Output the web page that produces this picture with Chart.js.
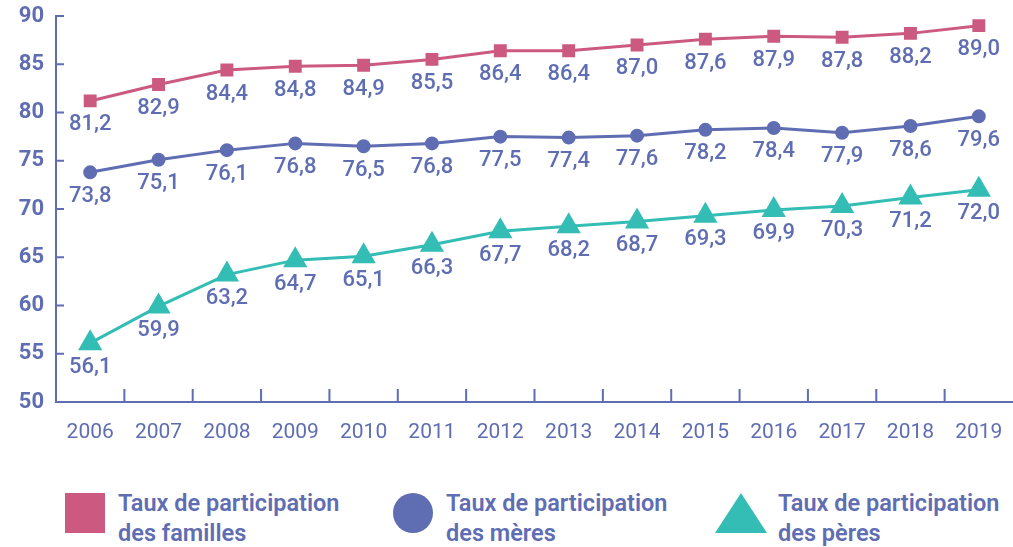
<!DOCTYPE html>
<html lang="fr">
<head>
<meta charset="utf-8">
<script src="https://cdn.jsdelivr.net/npm/chart.js@4"></script>
<style>
  body { margin: 0; background: #fff; font-family: Roboto, "Open Sans", sans-serif; }
  #wrap { position: relative; width: 1013px; height: 547px; overflow: hidden; }
  #box { position: absolute; left: 0; top: 0; width: 1013px; height: 460px; }
  .leg { position: absolute; top: 488px; color: #5f6db3; font-size: 23.5px; font-weight: 600; line-height: 30px; white-space: nowrap; }
  .mk { position: absolute; }
</style>
</head>
<body>
<div id="wrap">
  <div id="box"><canvas id="myChart"></canvas></div>
  <div class="mk" style="left:65px;top:493px;width:40px;height:40px;background:#cc5a80"></div>
  <div class="leg" style="left:118px">Taux de participation<br>des familles</div>
  <div class="mk" style="left:393px;top:493px;width:40px;height:40px;border-radius:50%;background:#5f6db3"></div>
  <div class="leg" style="left:446px">Taux de participation<br>des mères</div>
  <div class="mk" style="left:715px;top:493px;width:0;height:0;border-left:26px solid transparent;border-right:26px solid transparent;border-bottom:40px solid #33bdb5"></div>
  <div class="leg" style="left:778px">Taux de participation<br>des pères</div>
</div>
<script>
// Données du graphique
var annees = ["2006", "2007", "2008", "2009", "2010", "2011", "2012", "2013", "2014", "2015", "2016", "2017", "2018", "2019"];
var familles = [81.2, 82.9, 84.4, 84.8, 84.9, 85.5, 86.4, 86.4, 87.0, 87.6, 87.9, 87.8, 88.2, 89.0];
var meres = [73.8, 75.1, 76.1, 76.8, 76.5, 76.8, 77.5, 77.4, 77.6, 78.2, 78.4, 77.9, 78.6, 79.6];
var peres = [56.1, 59.9, 63.2, 64.7, 65.1, 66.3, 67.7, 68.2, 68.7, 69.3, 69.9, 70.3, 71.2, 72.0];
var graduations = [50, 55, 60, 65, 70, 75, 80, 85, 90];

var bleu = "#5f6db3";

// Petits traits vers l'intérieur sur les axes
var traits = {
    id: "traits",
    beforeDatasetsDraw: function (chart) {
        var c = chart.ctx, a = chart.chartArea;
        var x = chart.scales.x, y = chart.scales.y;
        c.save();
        c.strokeStyle = bleu;
        c.lineWidth = 2;
        c.beginPath();
        graduations.forEach(function (v) {
            var py = y.getPixelForValue(v);
            if (v > 50) { c.moveTo(a.left, py); c.lineTo(a.left + 8, py); }
        });
        for (var i = 1; i < annees.length; i++) {
            var px = (x.getPixelForValue(i - 1) + x.getPixelForValue(i)) / 2;
            c.moveTo(px, a.bottom); c.lineTo(px, a.bottom - 13);
        }
        c.stroke();
        c.restore();
    }
};

// Valeurs sous chaque point
var etiquettes = {
    id: "etiquettes",
    afterDatasetsDraw: function (chart) {
        var c = chart.ctx;
        c.save();
        c.fillStyle = bleu;
        c.font = "500 22px Roboto";
        c.textAlign = "center";
        c.textBaseline = "middle";
        chart.data.datasets.forEach(function (ds, i) {
            chart.getDatasetMeta(i).data.forEach(function (pt, j) {
                c.fillText(ds.data[j].toFixed(1).replace(".", ","), pt.x, pt.y + 24);
            });
        });
        c.restore();
    }
};

var ctx = document.getElementById("myChart").getContext("2d");
var myChart = new Chart(ctx, {
    type: "line",
    data: {
        labels: annees,
        datasets: [{
            label: "Taux de participation des familles",
            data: familles,
            borderColor: "#cc5a80",
            backgroundColor: "#cc5a80",
            borderWidth: 3,
            pointStyle: "rect",
            pointRadius: 7,
        }, {
            label: "Taux de participation des mères",
            data: meres,
            borderColor: bleu,
            backgroundColor: bleu,
            borderWidth: 3,
            pointStyle: "circle",
            pointRadius: 5.5,
        }, {
            label: "Taux de participation des pères",
            data: peres,
            borderColor: "#33bdb5",
            backgroundColor: "#33bdb5",
            borderWidth: 3,
            pointStyle: "triangle",
            pointRadius: 11,
        }],
    },
    options: {
        responsive: true,
        maintainAspectRatio: false,
        animation: false,
        layout: { autoPadding: false, padding: { top: 16, right: 0, left: 0, bottom: 0 } },
        plugins: { legend: { display: false }, tooltip: { enabled: false } },
        scales: {
            x: {
                offset: true,
                grid: { display: false, drawTicks: false },
                border: { display: true, color: bleu, width: 2 },
                ticks: { color: bleu, font: { family: "Roboto", size: 21 }, padding: 18, maxRotation: 0 },
                afterFit: function (s) { s.height = 58; s.paddingLeft = 0; s.paddingRight = 0; },
            },
            y: {
                min: 50,
                max: 90,
                afterBuildTicks: function (s) { s.ticks = graduations.map(function (v) { return { value: v }; }); },
                grid: { display: false, drawTicks: false },
                border: { display: true, color: bleu, width: 2 },
                ticks: { color: bleu, font: { family: "Roboto", size: 22, weight: "bold" }, padding: 12 },
                afterFit: function (s) { s.width = 56; s.paddingTop = 0; s.paddingBottom = 0; },
            },
        },
    },
    plugins: [traits, etiquettes],
});
</script>
</body>
</html>
